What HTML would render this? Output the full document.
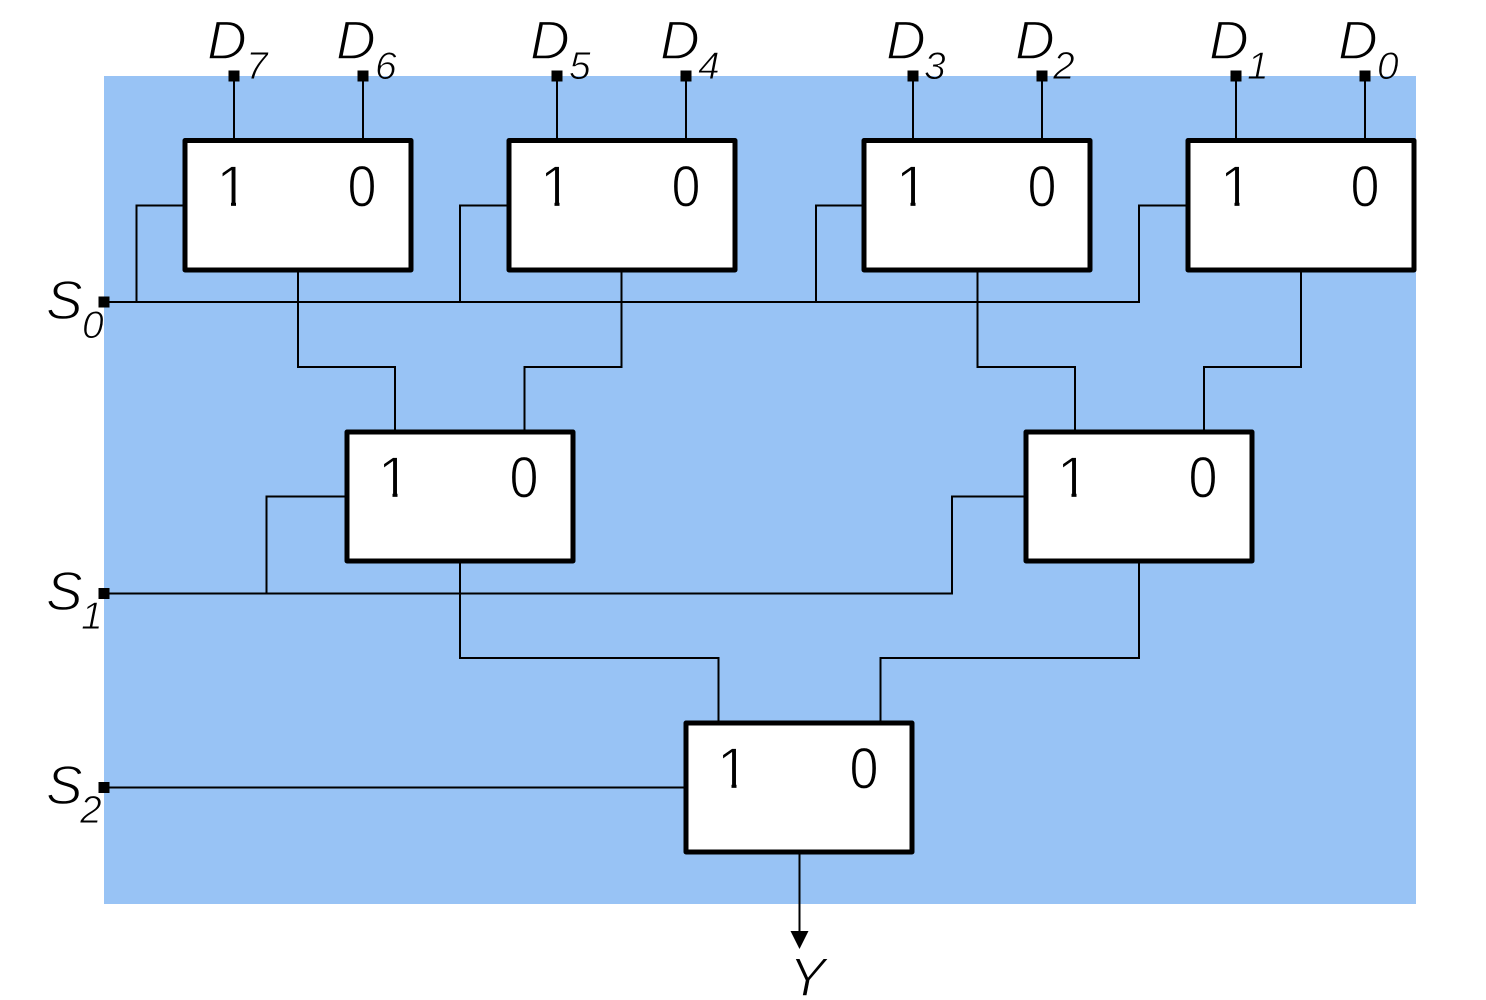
<!DOCTYPE html>
<html><head><meta charset="utf-8"><style>
html,body{margin:0;padding:0;background:#fff}
svg{display:block}
text{font-family:"Liberation Sans",sans-serif}
.w{fill:none;stroke:#000;stroke-width:2}
.b{fill:#fff;stroke:#000;stroke-width:5;stroke-linejoin:round}
.n{font-size:58px;fill:#000;stroke:#fff;stroke-width:1.2}
.m{font-size:55px;font-style:italic;fill:#000;stroke:#fff;stroke-width:1.4}
.s{font-size:39px;font-style:italic;fill:#000;stroke:#fff;stroke-width:0.9}
</style></head><body>
<svg width="1486" height="1000" viewBox="0 0 1486 1000" xmlns="http://www.w3.org/2000/svg">
<g class="m">
<text x="207" y="59">D</text><text x="336" y="59">D</text>
<text x="530" y="59">D</text><text x="660" y="59">D</text>
<text x="886" y="59">D</text><text x="1015" y="59">D</text>
<text x="1209" y="59">D</text><text x="1338" y="59">D</text>
<text x="46" y="319">S</text><text x="46" y="610">S</text><text x="46" y="804">S</text>
<text x="789" y="996">Y</text>
</g>
<g class="s">
<text x="246" y="79">7</text><text x="375" y="79">6</text>
<text x="569" y="79">5</text><text x="698" y="79">4</text>
<text x="924" y="79">3</text><text x="1053" y="79">2</text>
<text x="1247" y="79">1</text><text x="1377" y="79">0</text>
<text x="82" y="338">0</text><text x="81" y="629">1</text><text x="80" y="823">2</text>
</g>
<rect x="104" y="76" width="1312" height="828" fill="#98c3f5" style="mix-blend-mode:multiply"/>
<g class="w">
<path d="M234 76V140M363 76V140M557 76V140M686 76V140M913 76V140M1042 76V140M1236 76V140M1365 76V140"/>
<path d="M104 302H1139V205.500H1188M136.500 302V205.500H185M460 302V205.500H509M816 302V205.500H864"/>
<path d="M298 270V367H395V432M621.500 270V367H524.500V432M977.500 270V367H1075V432M1301 270V367H1204V432"/>
<path d="M104 593.500H952V496.500H1026M266.500 593.500V496.500H347"/>
<path d="M460 561V658H718.500V723M1139 561V658H880.500V723"/>
<path d="M104 787.500H686"/>
<path d="M799.500 852V935"/>
</g>
<path d="M790.500 931H808.500L799.500 949Z" fill="#000"/>
<g fill="#000">
<rect x="228.500" y="70.500" width="11" height="11"/><rect x="357.500" y="70.500" width="11" height="11"/>
<rect x="551.500" y="70.500" width="11" height="11"/><rect x="680.500" y="70.500" width="11" height="11"/>
<rect x="907.500" y="70.500" width="11" height="11"/><rect x="1036.500" y="70.500" width="11" height="11"/>
<rect x="1230.500" y="70.500" width="11" height="11"/><rect x="1359.500" y="70.500" width="11" height="11"/>
<rect x="98.500" y="296.500" width="11" height="11"/><rect x="98.500" y="588" width="11" height="11"/><rect x="98.500" y="782" width="11" height="11"/>
</g>
<g class="b">
<rect x="185" y="140.500" width="226" height="129.500"/>
<rect x="509" y="140.500" width="226" height="129.500"/>
<rect x="864" y="140.500" width="226" height="129.500"/>
<rect x="1188" y="140.500" width="226" height="129.500"/>
<rect x="347" y="432" width="226" height="129"/>
<rect x="1026" y="432" width="226" height="129"/>
<rect x="686" y="723" width="226" height="129"/>
</g>
<g class="n" text-anchor="middle">
<text x="232.500" y="206.500">1</text><text x="362" y="206.500" textLength="29" lengthAdjust="spacingAndGlyphs">0</text>
<text x="556" y="206.500">1</text><text x="686" y="206.500" textLength="29" lengthAdjust="spacingAndGlyphs">0</text>
<text x="912" y="206.500">1</text><text x="1042" y="206.500" textLength="29" lengthAdjust="spacingAndGlyphs">0</text>
<text x="1236" y="206.500">1</text><text x="1365" y="206.500" textLength="29" lengthAdjust="spacingAndGlyphs">0</text>
<text x="394" y="497.500">1</text><text x="524" y="497.500" textLength="29" lengthAdjust="spacingAndGlyphs">0</text>
<text x="1073" y="497.500">1</text><text x="1203" y="497.500" textLength="29" lengthAdjust="spacingAndGlyphs">0</text>
<text x="733" y="788.500">1</text><text x="864" y="788.500" textLength="29" lengthAdjust="spacingAndGlyphs">0</text>
</g>
<g fill="#fff">
<path d="M216 200h15v9h-15zM236 200h14v9h-14z"/>
<path d="M539.500 200h15v9h-15zM559.500 200h14v9h-14z"/>
<path d="M895.500 200h15v9h-15zM915.500 200h14v9h-14z"/>
<path d="M1219.500 200h15v9h-15zM1239.500 200h14v9h-14z"/>
<path d="M377.500 491h15v9h-15zM397.500 491h14v9h-14z"/>
<path d="M1056.500 491h15v9h-15zM1076.500 491h14v9h-14z"/>
<path d="M716.500 782h15v9h-15zM736.500 782h14v9h-14z"/>
</g>
</svg>
</body></html>
